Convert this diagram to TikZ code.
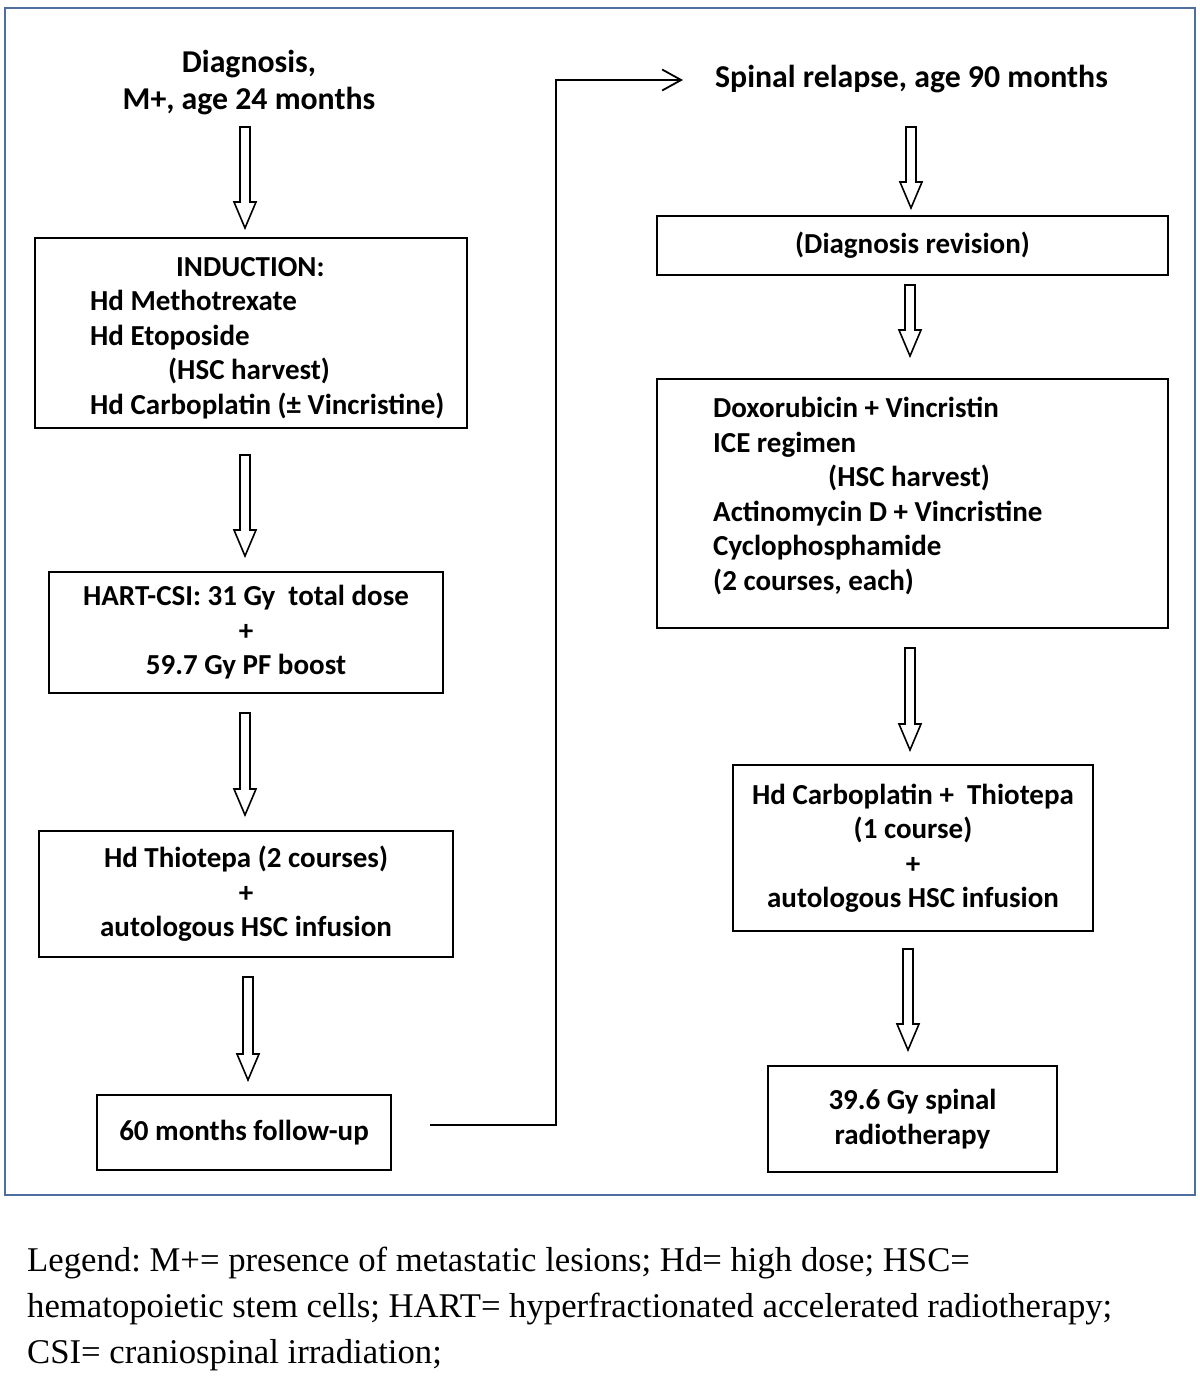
\documentclass[tikz,border=0pt]{standalone}
\usepackage{fontspec}
\setmainfont{Carlito}
\newfontfamily\legendfont{Liberation Serif}
\usetikzlibrary{arrows.meta,calc}
\definecolor{framecol}{RGB}{79,110,160}
\tikzset{
  boxnode/.style={draw=black, line width=1.8pt, rectangle, inner sep=0pt, align=center,
    font=\bfseries\fontsize{29}{34.5}\selectfont},
  txt/.style={inner sep=0pt, font=\bfseries\fontsize{29}{34.5}\selectfont},
  ttl/.style={inner sep=0pt, align=center, font=\bfseries\fontsize{31.8}{37}\selectfont},
  blkarrow/.style={draw=black, line width=1.6pt, fill=white, line join=miter},
  link/.style={draw=black, line width=1.8pt, -{Straight Barb[length=19pt,width=21pt,line width=1.8pt]}},
}
\newcommand\blockarr[2]{\draw[blkarrow] ($(#1)+(-5,0)$) -- ($(#2)+(-5,-26)$) -- ($(#2)+(-11,-26)$) -- (#2) -- ($(#2)+(11,-26)$) -- ($(#2)+(5,-26)$) -- ($(#1)+(5,0)$) -- cycle;}
\begin{document}
\frenchspacing
\begin{tikzpicture}[x=1pt,y=-1pt]
\useasboundingbox (0,0) rectangle (1200,1377);
\fill[white] (0,0) rectangle (1200,1377);
\draw[framecol, line width=2.2pt] (5,8) rectangle (1195,1195);
% left column
\node[ttl] (diag) at (249,83) {Diagnosis,\\M+, age 24 months};
\node[boxnode, minimum width=432pt, minimum height=190pt] (ind) at (251,333) {};
\node[txt, anchor=west, align=left] (indt) at (90,338) {\hspace*{86pt}INDUCTION:\\Hd Methotrexate\\Hd Etoposide\\\hspace*{78pt}(HSC harvest)\\Hd Carboplatin (± Vincristine)};
\node[boxnode, minimum width=394pt, minimum height=121pt] (hart) at (246,632.5) {HART-CSI: 31 Gy~~total dose\\+\\59.7 Gy PF boost};
\node[boxnode, minimum width=414pt, minimum height=126pt] (thio) at (246,894) {Hd Thiotepa (2 courses)\\+\\autologous HSC infusion};
\node[boxnode, minimum width=294pt, minimum height=75pt] (fu) at (244,1132.5) {60 months follow-up};
% right column
\node[ttl] (relapse) at (911.5,79) {Spinal relapse, age 90 months};
\node[boxnode, minimum width=511pt, minimum height=59pt] (rev) at (912.5,245.5) {(Diagnosis revision)};
\node[boxnode, minimum width=511pt, minimum height=249pt] (dox) at (912.5,503.5) {};
\node[txt, anchor=west, align=left] (doxt) at (713,496) {Doxorubicin + Vincristin\\ICE regimen\\\hspace*{115pt}(HSC harvest)\\Actinomycin D + Vincristine\\Cyclophosphamide\\(2 courses, each)};
\node[boxnode, minimum width=360pt, minimum height=166pt] (carbo) at (913,848) {Hd Carboplatin +~~Thiotepa\\(1 course)\\+\\autologous HSC infusion};
\node[boxnode, minimum width=289pt, minimum height=106pt] (rt) at (912.5,1119) {39.6 Gy spinal\\radiotherapy};
% block arrows
\coordinate (a1s) at (245,127); \coordinate (a1e) at (245,228);
\coordinate (a2s) at (245,455); \coordinate (a2e) at (245,556);
\coordinate (a3s) at (245,713); \coordinate (a3e) at (245,815);
\coordinate (a4s) at (248,977); \coordinate (a4e) at (248,1080);
\coordinate (b1s) at (911,127); \coordinate (b1e) at (911,208);
\coordinate (b2s) at (910,285); \coordinate (b2e) at (910,356);
\coordinate (b3s) at (910,648); \coordinate (b3e) at (910,750);
\coordinate (b4s) at (908,949); \coordinate (b4e) at (908,1050);
\blockarr{a1s}{a1e}
\blockarr{a2s}{a2e}
\blockarr{a3s}{a3e}
\blockarr{a4s}{a4e}
\blockarr{b1s}{b1e}
\blockarr{b2s}{b2e}
\blockarr{b3s}{b3e}
\blockarr{b4s}{b4e}
% link
\coordinate (ls) at (430,1125);
\coordinate (le) at (683,80);
\draw[link] (ls) -- (556,1125) -- (556,80) -- (le);
% legend
\node[inner sep=0pt, anchor=west, align=left, font=\legendfont\fontsize{34.7}{46}\selectfont] (legend) at (27,1309) {Legend: M+= presence of metastatic lesions; Hd= high dose; HSC=\\hematopoietic stem cells; HART= hyperfractionated accelerated radiotherapy;\\CSI= craniospinal irradiation;};
\end{tikzpicture}
\end{document}
